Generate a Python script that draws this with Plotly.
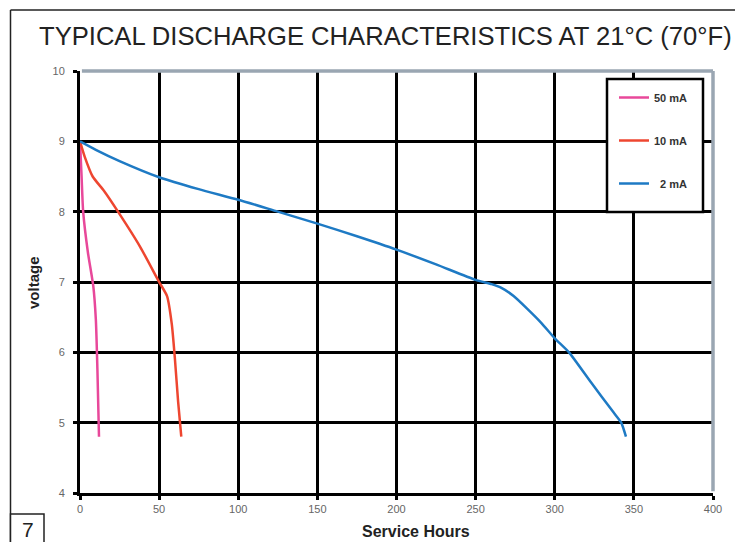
import plotly.graph_objects as go

# ---- data ----
hours_50mA = [0, 1, 2, 5, 8.4, 10, 11, 12]
volts_50mA = [9.0, 8.5, 8.0, 7.42, 6.94, 6.47, 5.76, 4.8]

hours_10mA = [0, 3, 8, 15, 24, 38, 50, 55, 58, 60, 62, 64]
volts_10mA = [9.0, 8.78, 8.5, 8.3, 8.0, 7.5, 7.0, 6.8, 6.4, 5.9, 5.3, 4.8]

hours_2mA = [0, 10, 25, 50, 75, 100, 125, 150, 175, 200, 225, 250, 260, 266, 274, 291, 300, 309, 323, 337, 342, 345]
volts_2mA = [9.0, 8.88, 8.72, 8.49, 8.32, 8.17, 8.0, 7.83, 7.65, 7.46, 7.25, 7.03, 6.97, 6.92, 6.8, 6.43, 6.2, 6.0, 5.57, 5.15, 5.0, 4.8]

series_names = ["50 mA", "10 mA", "\u20072 mA"]
series_colors = ["#e8489a", "#ee4630", "#1e7ac4"]

x_ticks = [0, 50, 100, 150, 200, 250, 300, 350, 400]
y_ticks = [4, 5, 6, 7, 8, 9, 10]

title_text = "TYPICAL DISCHARGE CHARACTERISTICS AT 21°C (70°F)"
x_title = "Service Hours"
y_title = "voltage"
page_number = "7"

# ---- geometry helpers (pixel -> paper) ----
W, H = 735, 542
L, R, T, B = 80, 713, 71, 493


def px(x):
    return (x - L) / (R - L)


def py(y):
    return (B - y) / (B - T)


fig = go.Figure()
for i, (xs, ys) in enumerate([(hours_50mA, volts_50mA), (hours_10mA, volts_10mA), (hours_2mA, volts_2mA)]):
    fig.add_trace(go.Scatter(
        x=xs, y=ys, mode="lines", name=series_names[i],
        line=dict(color=series_colors[i], width=2.5, shape="spline", smoothing=0.6),
        legendgroup=f"g{i}",
    ))

fig.update_layout(
    template="none",
    width=W, height=H,
    margin=dict(l=L, r=W - R, t=T, b=H - B),
    paper_bgcolor="white", plot_bgcolor="white",
    font=dict(family="Liberation Sans, Arial, sans-serif", color="#555"),
    showlegend=True,
    legend=dict(
        x=px(614), y=py(83), xanchor="left", yanchor="top",
        bgcolor="rgba(0,0,0,0)", borderwidth=0,
        font=dict(size=11, color="#333", weight="bold"),
        tracegroupgap=24,
        traceorder="grouped",
    ),
)

fig.update_xaxes(
    range=[0, 400], tickvals=x_ticks, ticktext=[str(v) for v in x_ticks],
    showgrid=True, gridcolor="black", gridwidth=3,
    showline=True, linecolor="black", linewidth=3,
    ticks="outside", ticklen=4, tickwidth=3, tickcolor="black",
    tickfont=dict(size=11, color="#666"), zeroline=False,
)
fig.update_yaxes(
    range=[4, 10], tickvals=y_ticks, ticktext=[str(v) for v in y_ticks],
    showgrid=True, gridcolor="black", gridwidth=3,
    showline=True, linecolor="black", linewidth=3,
    ticks="outside", ticklen=4, tickwidth=3, tickcolor="black",
    tickfont=dict(size=11, color="#666"), zeroline=False,
    ticklabelstandoff=6,
)

shapes = [
    # gray top and right borders of the plot area
    dict(type="line", xref="paper", yref="paper", x0=0.003, x1=1, y0=1, y1=1,
         line=dict(color="#9aa6b2", width=3.5), layer="above"),
    dict(type="line", xref="paper", yref="paper", x0=1, x1=1, y0=0.004, y1=1,
         line=dict(color="#9aa6b2", width=3.5), layer="above"),
    # legend box
    dict(type="rect", xref="paper", yref="paper", x0=px(607), x1=px(703), y0=py(212), y1=py(79),
         line=dict(color="black", width=2.5), fillcolor="white", layer="above"),
    # page frame
    dict(type="line", xref="paper", yref="paper", x0=px(10.5), x1=px(735), y0=py(10), y1=py(10),
         line=dict(color="#222", width=1.5)),
    dict(type="line", xref="paper", yref="paper", x0=px(10.5), x1=px(10.5), y0=py(10), y1=py(542),
         line=dict(color="#222", width=1.5)),
    dict(type="rect", xref="paper", yref="paper", x0=px(10.5), x1=px(44), y0=py(514), y1=py(545),
         line=dict(color="#222", width=1.5), fillcolor="white"),
]
fig.update_layout(shapes=shapes)

fig.add_annotation(text=title_text, xref="paper", yref="paper", x=px(385), y=py(36),
                   showarrow=False, font=dict(size=25.6, color="#222"), xanchor="center", yanchor="middle")
fig.add_annotation(text=x_title, xref="paper", yref="paper", x=px(416), y=py(531),
                   showarrow=False, font=dict(size=16, color="#222", weight="bold"),
                   xanchor="center", yanchor="middle")
fig.add_annotation(text=y_title, xref="paper", yref="paper", x=px(33), y=py(283),
                   showarrow=False, textangle=-90, font=dict(size=15, color="#222", weight="bold"),
                   xanchor="center", yanchor="middle")
fig.add_annotation(text=page_number, xref="paper", yref="paper", x=px(27.5), y=py(529),
                   showarrow=False, font=dict(size=21, color="#222"),
                   xanchor="center", yanchor="middle")

fig.write_html("out.html", config={"displayModeBar": False},
               post_script="document.body.style.margin='0px';document.body.style.overflow='hidden';")
